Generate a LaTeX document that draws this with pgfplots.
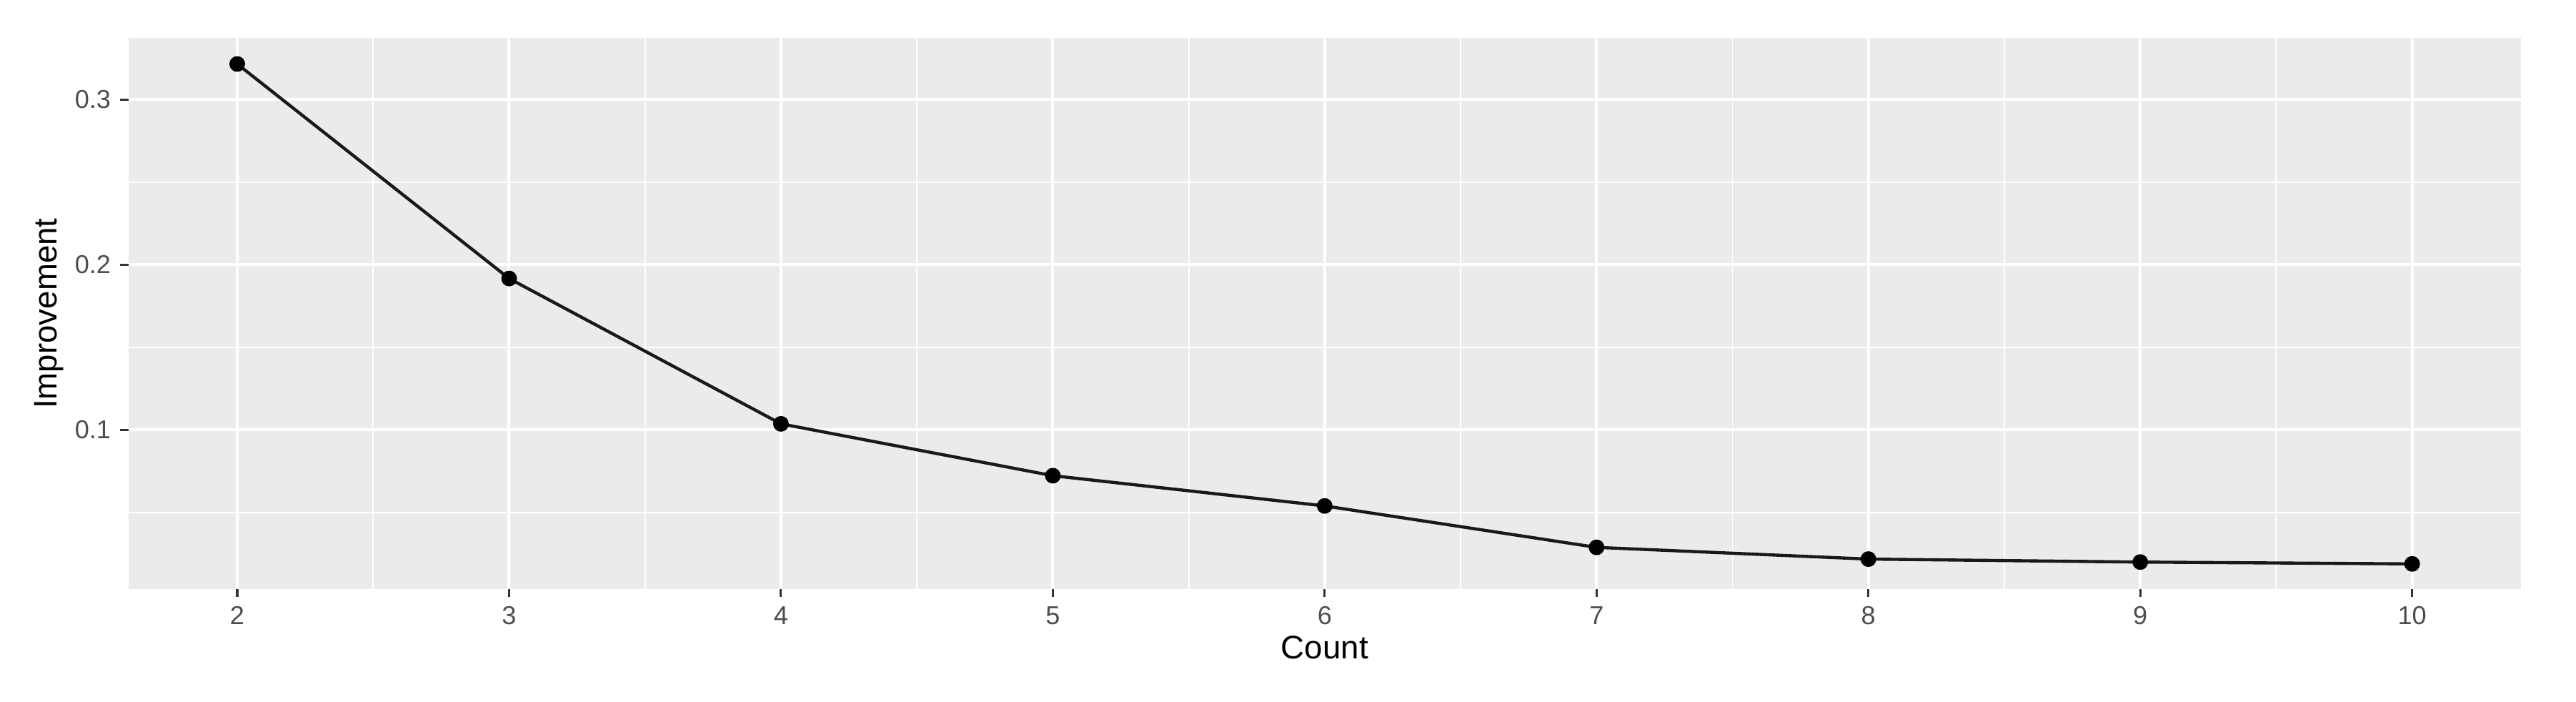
\documentclass[border=0pt]{standalone}
\usepackage{fontspec}
\setmainfont{Liberation Sans}
\usepackage{pgfplots}
\pgfplotsset{compat=1.18}

\definecolor{panelgray}{HTML}{EBEBEB}
\definecolor{tickgray}{HTML}{4D4D4D}
\definecolor{tickmark}{HTML}{333333}

\begin{document}
\begin{tikzpicture}
\begin{axis}[
  scale only axis, width=880.6pt, height=202.7pt,
  xmin=1.6, xmax=10.4, ymin=0.0036, ymax=0.3372,
  axis background/.style={fill=panelgray},
  axis line style={draw=none},
  xtick={2,3,4,5,6,7,8,9,10},
  ytick={0.1,0.2,0.3},
  minor xtick={2.5,3.5,4.5,5.5,6.5,7.5,8.5,9.5},
  minor ytick={0.05,0.15,0.25},
  grid=both,
  major grid style={white, line width=1.05pt},
  minor grid style={white, line width=0.5pt},
  tick align=outside, major tick length=3pt, minor tick length=0pt,
  tick style={tickmark, line width=0.8pt},
  xtick pos=bottom, ytick pos=left,
  /pgf/number format/assume math mode=true,
  /pgf/number format/fixed, /pgf/number format/precision=1,
  ticklabel style={font=\fontsize{9.5}{11}\selectfont, text=tickgray},
  xlabel={Count}, ylabel={Improvement},
  label style={font=\fontsize{12}{14}\selectfont, text=black},
  xlabel style={at={(axis description cs:0.5,-0.1066)}, anchor=center},
  ylabel style={at={(axis description cs:-0.0333,0.5)}, anchor=center},
  clip=false,
]
\addplot[black!90, line width=1.15pt, mark=*, mark size=2.3pt,
  mark options={black}] coordinates {
  (2,0.3215) (3,0.1916) (4,0.1036) (5,0.0722) (6,0.0539)
  (7,0.0288) (8,0.0217) (9,0.0199) (10,0.0188)
};
\end{axis}
\path ([xshift=-47.3pt,yshift=-41.5pt]current axis.south west) rectangle ([xshift=20.3pt,yshift=14pt]current axis.north east);
\end{tikzpicture}
\end{document}
